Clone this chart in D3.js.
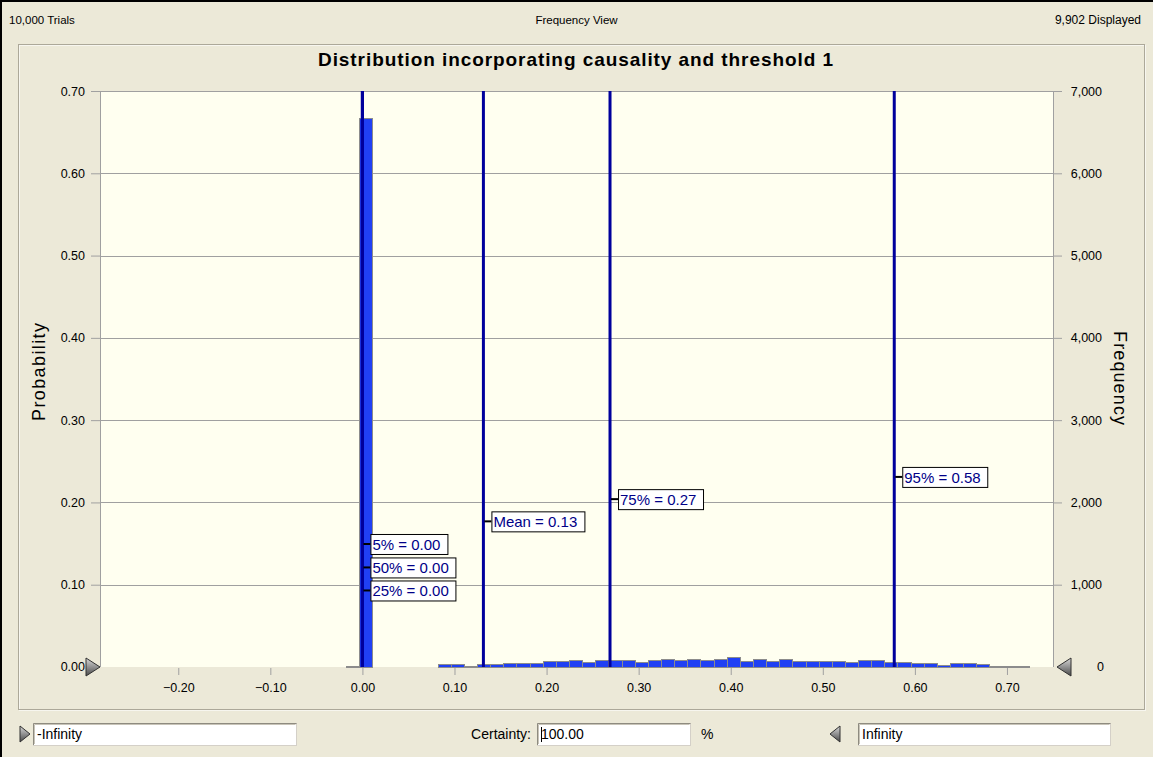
<!DOCTYPE html>
<html>
<head>
<meta charset="utf-8">
<script src="https://cdn.jsdelivr.net/npm/d3@7"></script>
<style>
  html, body { margin: 0; padding: 0; background: #ECE9D8; }
  svg { display: block; font-family: "Liberation Sans", Arial, sans-serif; }
</style>
</head>
<body>
<svg id="chart" width="1153" height="757"></svg>
<script>
// ---- data -------------------------------------------------------------
const totalTrials = 10000;
const displayedTrials = 9902;
const viewName = "Frequency View";
const chartTitle = "Distribution incorporating causality and threshold 1";
const leftTitle = "Probability";
const rightTitle = "Frequency";

const probTicks = [0, 0.1, 0.2, 0.3, 0.4, 0.5, 0.6, 0.7];
const freqTicks = [0, 1000, 2000, 3000, 4000, 5000, 6000, 7000];
const xTicks = [-0.2, -0.1, 0, 0.1, 0.2, 0.3, 0.4, 0.5, 0.6, 0.7];

// histogram: first bin lower edge, bin width, counts per bin
const binLow = -0.0177;
const binWidth = 0.01427;
const binCounts = [
  2, 6660, 0, 0, 0, 0, 0, 30, 30, 3,
  30, 25, 45, 38, 38, 62, 62, 80, 56, 80,
  76, 74, 56, 76, 97, 76, 97, 76, 97, 115,
  72, 95, 72, 95, 72, 72, 72, 72, 56, 76,
  76, 56, 56, 40, 40, 24, 44, 44, 32, 2,
  2, 2
];

// statistic markers
const statNames = ["5%", "50%", "25%", "Mean", "75%", "95%"];
const statValues = [0.0, 0.0, 0.0, 0.1314, 0.2689, 0.5776];
// height (probability units) at which each marker's label sits
const statLabelAt = [0.1495, 0.121, 0.093, 0.177, 0.204, 0.231];

// bottom controls
const lowerBound = "-Infinity";
const upperBound = "Infinity";
const certainty = 100.00;

// ---- layout -----------------------------------------------------------
const W = 1153, H = 757;
const plot = { left: 100, right: 1053, top: 91, bottom: 667 };

const svg = d3.select("#chart");

const x = d3.scaleLinear().domain([-0.285, 0.75]).range([plot.left, plot.right]);
const yProb = d3.scaleLinear().domain([0, 0.7]).range([plot.bottom, plot.top]);
const yFreq = d3.scaleLinear().domain([0, 7000]).range([plot.bottom, plot.top]);

const gridGrey = "#A0A0A0";
const navy = "#00009C";

// window frame
svg.append("rect").attr("width", W).attr("height", H).attr("fill", "#ECE9D8");
svg.append("line").attr("x1", 0).attr("x2", W).attr("y1", 1).attr("y2", 1)
  .attr("stroke", "#000").attr("stroke-width", 2);
svg.append("line").attr("x1", 1).attr("x2", 1).attr("y1", 0).attr("y2", H)
  .attr("stroke", "#000").attr("stroke-width", 2);

// header texts
const header = svg.append("g").attr("font-size", 12).attr("fill", "#000");
header.append("text").attr("x", 9).attr("y", 24).attr("font-size", 11.5)
  .text(d3.format(",")(totalTrials) + " Trials");
header.append("text").attr("x", W / 2).attr("y", 24).attr("text-anchor", "middle")
  .attr("font-size", 11.5).text(viewName);
header.append("text").attr("x", 1141).attr("y", 24).attr("text-anchor", "end")
  .text(d3.format(",")(displayedTrials) + " Displayed");

// group box around chart
svg.append("rect").attr("x", 19.5).attr("y", 45.5).attr("width", 1126).attr("height", 665)
  .attr("fill", "none").attr("stroke", "#FFFFFF").attr("stroke-opacity", 0.6);
svg.append("rect").attr("x", 18.5).attr("y", 44.5).attr("width", 1126).attr("height", 665)
  .attr("fill", "none").attr("stroke", "#ACA899");

// title
svg.append("text").attr("x", 575.5).attr("y", 66)
  .attr("text-anchor", "middle").attr("font-size", 19).attr("font-weight", "bold")
  .attr("textLength", 515).attr("lengthAdjust", "spacing")
  .text(chartTitle);

// plot background
svg.append("rect").attr("x", plot.left).attr("y", plot.top)
  .attr("width", plot.right - plot.left).attr("height", plot.bottom - plot.top)
  .attr("fill", "#FFFFF0");

// horizontal grid lines
svg.append("g").selectAll("line").data(probTicks.filter(d => d > 0)).join("line")
  .attr("x1", plot.left).attr("x2", plot.right)
  .attr("y1", d => Math.round(yProb(d)) + 0.5).attr("y2", d => Math.round(yProb(d)) + 0.5)
  .attr("stroke", gridGrey);

// plot frame (left, right)
svg.append("line").attr("x1", plot.left + 0.5).attr("x2", plot.left + 0.5)
  .attr("y1", plot.top).attr("y2", plot.bottom).attr("stroke", gridGrey);
svg.append("line").attr("x1", plot.right + 0.5).attr("x2", plot.right + 0.5)
  .attr("y1", plot.top).attr("y2", plot.bottom).attr("stroke", gridGrey);

// left axis (probability)
const leftAxis = svg.append("g").attr("transform", `translate(${plot.left},0)`)
  .call(d3.axisLeft(yProb).tickValues(probTicks.filter(d => d > 0))
    .tickFormat(d3.format(".2f")).tickSize(9).tickPadding(6));
leftAxis.select(".domain").remove();
leftAxis.selectAll("line").attr("stroke", gridGrey);
leftAxis.selectAll("text").attr("font-size", 12.5).attr("fill", "#000")
  .attr("font-family", "Liberation Sans, Arial, sans-serif");
// the zero label sits next to the lower-bound marker
svg.append("text").attr("x", 85).attr("y", yProb(0)).attr("dy", "0.32em")
  .attr("text-anchor", "end").attr("font-size", 12.5).text(d3.format(".2f")(0));

// right axis (frequency)
const rightAxis = svg.append("g").attr("transform", `translate(${plot.right},0)`)
  .call(d3.axisRight(yFreq).tickValues(freqTicks.filter(d => d > 0))
    .tickFormat(d3.format(",")).tickSize(9).tickPadding(6));
rightAxis.select(".domain").remove();
rightAxis.selectAll("line").attr("stroke", gridGrey);
rightAxis.selectAll("text").attr("font-size", 12.5).attr("fill", "#000")
  .attr("font-family", "Liberation Sans, Arial, sans-serif")
  .attr("text-anchor", "end").attr("x", 49);
svg.append("text").attr("x", plot.right + 51).attr("y", yFreq(0)).attr("dy", "0.32em")
  .attr("text-anchor", "end").attr("font-size", 12.5).text(d3.format(",")(0));

// bottom axis
const bottomAxis = svg.append("g").attr("transform", `translate(0,${plot.bottom + 1})`)
  .call(d3.axisBottom(x).tickValues(xTicks).tickFormat(d3.format(".2f"))
    .tickSize(7).tickPadding(8));
bottomAxis.select(".domain").remove();
bottomAxis.selectAll("line").attr("stroke", gridGrey);
bottomAxis.selectAll("text").attr("font-size", 12.5).attr("fill", "#000")
  .attr("font-family", "Liberation Sans, Arial, sans-serif");

// axis titles
svg.append("text")
  .attr("transform", `translate(45,372) rotate(-90)`)
  .attr("text-anchor", "middle").attr("font-size", 18)
  .attr("textLength", 98).attr("lengthAdjust", "spacing").text(leftTitle);
svg.append("text")
  .attr("transform", `translate(1114,378) rotate(90)`)
  .attr("text-anchor", "middle").attr("font-size", 18)
  .attr("textLength", 94).attr("lengthAdjust", "spacing").text(rightTitle);

// histogram bars
const bins = binCounts.map((c, i) => ({
  x0: binLow + i * binWidth,
  x1: binLow + (i + 1) * binWidth,
  count: c
})).filter(b => b.count > 0);

svg.append("g").attr("shape-rendering", "crispEdges")
  .selectAll("rect").data(bins).join("rect")
  .attr("x", d => x(d.x0))
  .attr("width", d => x(d.x1) - x(d.x0))
  .attr("y", d => yFreq(d.count))
  .attr("height", d => yFreq(0) - yFreq(d.count))
  .attr("fill", "#2040F4")
  .attr("stroke", "#8C8C8C")
  .attr("stroke-width", 1);

// statistic lines
const stats = statNames.map((n, i) => ({ name: n, value: statValues[i], at: statLabelAt[i] }));
svg.append("g").selectAll("line").data(stats).join("line")
  .attr("x1", d => x(d.value)).attr("x2", d => x(d.value))
  .attr("y1", plot.top).attr("y2", plot.bottom)
  .attr("stroke", navy).attr("stroke-width", 3);

// statistic labels
const labelG = svg.append("g").selectAll("g").data(stats).join("g")
  .attr("transform", d => `translate(${x(d.value)},${yProb(d.at)})`);
labelG.append("line").attr("x1", 1).attr("x2", 8).attr("y1", 0).attr("y2", 0)
  .attr("stroke", "#000").attr("stroke-width", 2);
const boxes = labelG.append("rect").attr("x", 8.5).attr("y", -9.5).attr("height", 20)
  .attr("fill", "#FFFFFF").attr("stroke", "#000");
const labelText = labelG.append("text").attr("x", 10).attr("y", 0).attr("dy", "0.38em")
  .attr("font-size", 15).attr("fill", "#000088")
  .text(d => `${d.name} = ${d.value.toFixed(2)}`);
labelText.each(function (d) { d.tw = this.getComputedTextLength(); });
boxes.attr("width", d => Math.round(d.tw) + 9);

// bound markers (grey triangles)
const defs = svg.append("defs");
const grad = defs.append("linearGradient").attr("id", "tri").attr("x1", 0).attr("y1", 0).attr("x2", 0).attr("y2", 1);
grad.append("stop").attr("offset", 0).attr("stop-color", "#D8D8D8");
grad.append("stop").attr("offset", 1).attr("stop-color", "#4A4A4A");
const tri = (pts) => svg.append("polygon").attr("points", pts.map(p => p.join(",")).join(" "))
  .attr("fill", "url(#tri)").attr("stroke", "#303030").attr("stroke-width", 1);
tri([[86, yProb(0) - 9], [100, yProb(0)], [86, yProb(0) + 9]]);
tri([[1071, yFreq(0) - 9], [1057, yFreq(0)], [1071, yFreq(0) + 9]]);

// bottom controls
const ctrl = svg.append("g").attr("font-size", 14);
tri([[20, 726], [30, 734], [20, 742]]);
tri([[840, 726], [830, 734], [840, 742]]);
function textBox(x0, x1, label) {
  ctrl.append("rect").attr("x", x0 + 0.5).attr("y", 723.5).attr("width", x1 - x0).attr("height", 22)
    .attr("fill", "#FFFFFF").attr("stroke", "#D4D0C8");
  ctrl.append("path").attr("d", `M${x0 + 0.5},745 V723.5 H${x1 + 0.5}`)
    .attr("fill", "none").attr("stroke", "#8E8B80");
  ctrl.append("path").attr("d", `M${x0 + 1.5},744 V724.5 H${x1 - 0.5}`)
    .attr("fill", "none").attr("stroke", "#C8C4B8");
  ctrl.append("text").attr("x", x0 + 4).attr("y", 739).text(label);
}
textBox(33, 296, lowerBound);
ctrl.append("text").attr("x", 531).attr("y", 739).attr("text-anchor", "end").text("Certainty:");
textBox(537, 690, d3.format(".2f")(certainty));
ctrl.append("line").attr("x1", 541.5).attr("x2", 541.5).attr("y1", 727).attr("y2", 742).attr("stroke", "#000");
ctrl.append("text").attr("x", 701).attr("y", 739).text("%");
textBox(858, 1110, upperBound);
</script>
</body>
</html>
